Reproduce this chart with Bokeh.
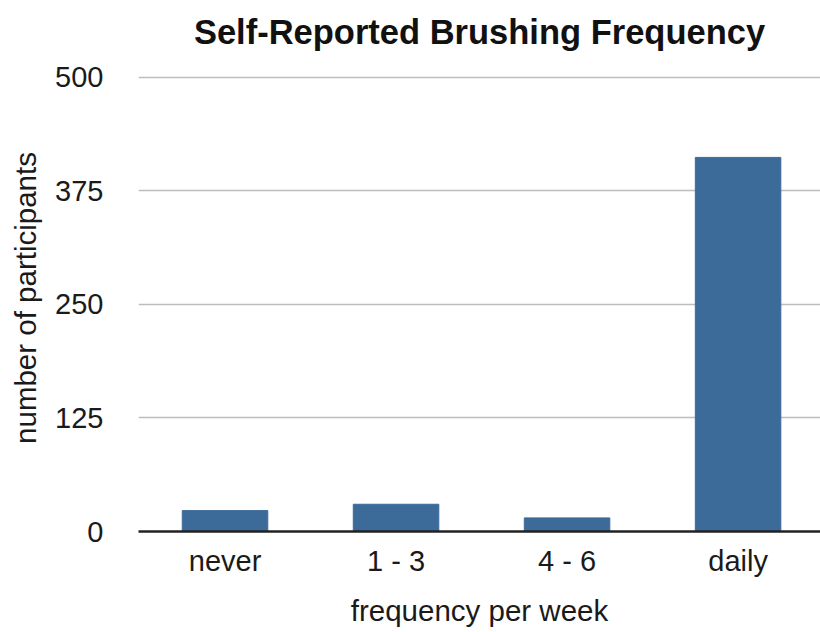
from bokeh.plotting import figure
from bokeh.models import Range1d, FixedTicker, ColumnDataSource
from bokeh.embed import file_html
from bokeh.resources import INLINE

# ---- data ----
categories = ["never", "1 - 3", "4 - 6", "daily"]
participants = [23, 30, 15, 412]
y_ticks = [0, 125, 250, 375, 500]

title_text = "Self-Reported Brushing Frequency"
x_label = "frequency per week"
y_label = "number of participants"

FONT = "Liberation Sans"
TEXT = "#1a1a1a"

positions = list(range(len(categories)))
src = ColumnDataSource(dict(x=positions, top=participants, cat=categories))

# y range extends a little above the last tick (empty headroom, no outline)
p = figure(width=820, height=632, output_backend="svg", toolbar_location=None,
           x_range=Range1d(-0.506, 3.482), y_range=Range1d(0, 514.3),
           min_border_left=138, min_border_right=0, min_border_top=64,
           min_border_bottom=101, title=title_text)

p.vbar(x="x", top="top", bottom=0, width=0.5, source=src,
       fill_color="#3c6a99", line_color="#3c6a99", line_width=1)

p.title.text_font = FONT
p.title.text_font_size = "34.5px"
p.title.text_font_style = "bold"
p.title.text_color = "#111111"
p.title.align = "center"
p.title.vertical_align = "top"
p.title.standoff = 23

p.outline_line_color = None
p.background_fill_color = "white"
p.border_fill_color = "white"

# grid
p.xgrid.grid_line_color = None
p.ygrid.ticker = FixedTicker(ticks=y_ticks)
p.ygrid.grid_line_color = "#bdbdbd"
p.ygrid.grid_line_width = 1.5

# y axis
p.yaxis.ticker = FixedTicker(ticks=y_ticks)
p.yaxis.axis_line_color = None
p.yaxis.major_tick_line_color = None
p.yaxis.minor_tick_line_color = None
p.yaxis.major_tick_out = 0
p.yaxis.major_tick_in = 0
p.yaxis.major_label_standoff = 35
p.yaxis.axis_label = y_label
p.yaxis.axis_label_standoff = 10
p.yaxis.axis_label_text_font_style = "normal"

# x axis
p.xaxis.ticker = FixedTicker(ticks=positions)
p.xaxis.major_label_overrides = {i: c for i, c in zip(positions, categories)}
p.xaxis.axis_line_color = "#222222"
p.xaxis.axis_line_width = 2.5
p.xaxis.major_tick_line_color = None
p.xaxis.minor_tick_line_color = None
p.xaxis.major_tick_out = 0
p.xaxis.major_tick_in = 0
p.xaxis.major_label_standoff = 13
p.xaxis.axis_label = x_label
p.xaxis.axis_label_standoff = 14
p.xaxis.axis_label_text_font_style = "normal"

for ax in (p.xaxis, p.yaxis):
    ax.major_label_text_font = FONT
    ax.major_label_text_font_size = "29px"
    ax.major_label_text_color = TEXT
    ax.axis_label_text_font = FONT
    ax.axis_label_text_font_size = "29.5px"
    ax.axis_label_text_color = TEXT

open("out.html", "w").write(file_html(p, INLINE))
